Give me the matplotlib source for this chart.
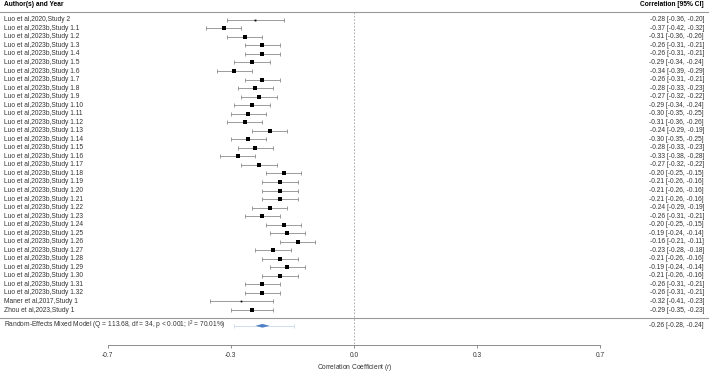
import numpy as np
import matplotlib
matplotlib.use('Agg')
import matplotlib.pyplot as plt

plt.rcParams['font.family'] = ['Liberation Sans', 'DejaVu Sans']
plt.rcParams['mathtext.fontset'] = 'custom'
plt.rcParams['mathtext.rm'] = 'Liberation Sans'
plt.rcParams['mathtext.it'] = 'Liberation Sans:italic'

studies = ['Luo et al,2020,Study 2'] + ['Luo et al,2023b,Study 1.%d' % i for i in range(1, 33)] + \
	['Maner et al,2017,Study 1', 'Zhou et al,2023,Study 1']
est = [-0.28, -0.37, -0.31, -0.26, -0.26, -0.29, -0.34, -0.26, -0.28, -0.27,
	-0.29, -0.30, -0.31, -0.24, -0.30, -0.28, -0.33, -0.27, -0.20, -0.21,
	-0.21, -0.21, -0.24, -0.26, -0.20, -0.19, -0.16, -0.23, -0.21, -0.19,
	-0.21, -0.26, -0.26, -0.32, -0.29]
lo = [-0.36, -0.42, -0.36, -0.31, -0.31, -0.34, -0.39, -0.31, -0.33, -0.32,
	-0.34, -0.35, -0.36, -0.29, -0.35, -0.33, -0.38, -0.32, -0.25, -0.26,
	-0.26, -0.26, -0.29, -0.31, -0.25, -0.24, -0.21, -0.28, -0.26, -0.24,
	-0.26, -0.31, -0.31, -0.41, -0.35]
hi = [-0.20, -0.32, -0.26, -0.21, -0.21, -0.24, -0.29, -0.21, -0.23, -0.22,
	-0.24, -0.25, -0.26, -0.19, -0.25, -0.23, -0.28, -0.22, -0.15, -0.16,
	-0.16, -0.16, -0.19, -0.21, -0.15, -0.14, -0.11, -0.18, -0.16, -0.14,
	-0.16, -0.21, -0.21, -0.23, -0.23]
# approximate study weights (%)
weights = [1.2] + [2.98] * 32 + [1.1, 2.3]

# pooled estimate and prediction interval
pooled = -0.26
pooled_ci = [-0.28, -0.24]
pred_int = [-0.34, -0.17]
model_label = 'Random-Effects Mixed Model (Q = 113.68, df = 34, p < 0.001; I$^2$ = 70.01%)'

tick_pos = [-0.7, -0.35, 0.0, 0.35, 0.7]
tick_lab = ['-0.7', '-0.3', '0.0', '0.3', '0.7']

fs = 4.75
txt_col = '#333333'
line_col = '#8c8c8c'

fig = plt.figure(figsize=(7.09, 3.73), dpi=100)
ax = fig.add_axes([0, 28 / 373, 1, 345 / 373])
ax.set_xlim(-354 / 352, 355 / 352)
ax.set_ylim(38.1, -2.32)

rows = np.arange(len(studies))
ytr = ax.get_yaxis_transform()

# confidence intervals
ax.errorbar(est, rows, xerr=[np.array(est) - np.array(lo), np.array(hi) - np.array(est)],
	fmt='none', ecolor=line_col, elinewidth=0.6, capsize=1.3, capthick=0.6, zorder=2)
w = np.array(weights)
for i in range(len(studies)):
	ax.plot(est[i], rows[i], 's', color='black', markersize=3.3 * w[i] / w.max(),
		markeredgewidth=0, zorder=3)
	ax.text(4 / 709, rows[i], studies[i], transform=ytr, fontsize=fs, color=txt_col,
		ha='left', va='center')
	ax.text(704 / 709, rows[i], '%.2f [%.2f, %.2f]' % (est[i], lo[i], hi[i]), transform=ytr,
		fontsize=fs, color=txt_col, ha='right', va='center')

# summary row
sy = 35.85
ax.errorbar(pooled, sy, xerr=[[pooled - pred_int[0]], [pred_int[1] - pooled]], fmt='none',
	ecolor='#c9d8ec', elinewidth=0.6, capsize=1.2, capthick=0.6, zorder=2)
ax.fill([pooled_ci[0], pooled, pooled_ci[1], pooled], [sy, sy - 0.22, sy, sy + 0.22],
	color='#4f7fc4', lw=0, zorder=3)
ax.text(4 / 709, sy, model_label, transform=ytr, fontsize=fs, color=txt_col, ha='left', va='center')
ax.text(704 / 709, sy, '%.2f [%.2f, %.2f]' % (pooled, pooled_ci[0], pooled_ci[1]), transform=ytr,
	fontsize=fs, color=txt_col, ha='right', va='center')

# headers and rules
ax.text(4 / 709, -1.8, 'Author(s) and Year', transform=ytr, fontsize=fs, fontweight='bold',
	ha='left', va='center')
ax.text(704 / 709, -1.8, 'Correlation [95% CI]', transform=ytr, fontsize=fs, fontweight='bold',
	ha='right', va='center')
ax.axhline(-0.92, color='#9a9a9a', lw=0.8)
ax.axhline(34.97, color='#9a9a9a', lw=0.8)
ax.vlines(0, -0.92, 38.1, colors='#a0a0a0', linestyles=(0, (2, 2)), lw=0.6, zorder=1)

# x axis
for s in ['left', 'right', 'top']:
	ax.spines[s].set_visible(False)
ax.spines['bottom'].set_bounds(-0.7, 0.7)
ax.spines['bottom'].set_color(line_col)
ax.spines['bottom'].set_linewidth(0.7)
ax.set_yticks([])
ax.set_xticks(tick_pos)
ax.set_xticklabels(tick_lab)
ax.tick_params(axis='x', length=2.2, width=0.7, color=line_col, labelsize=fs,
	labelcolor=txt_col, pad=3.0)
ax.set_xlabel('Correlation Coefficient ($r$)', fontsize=fs, color=txt_col, labelpad=1.8)

fig.savefig('out.png', dpi=100)
